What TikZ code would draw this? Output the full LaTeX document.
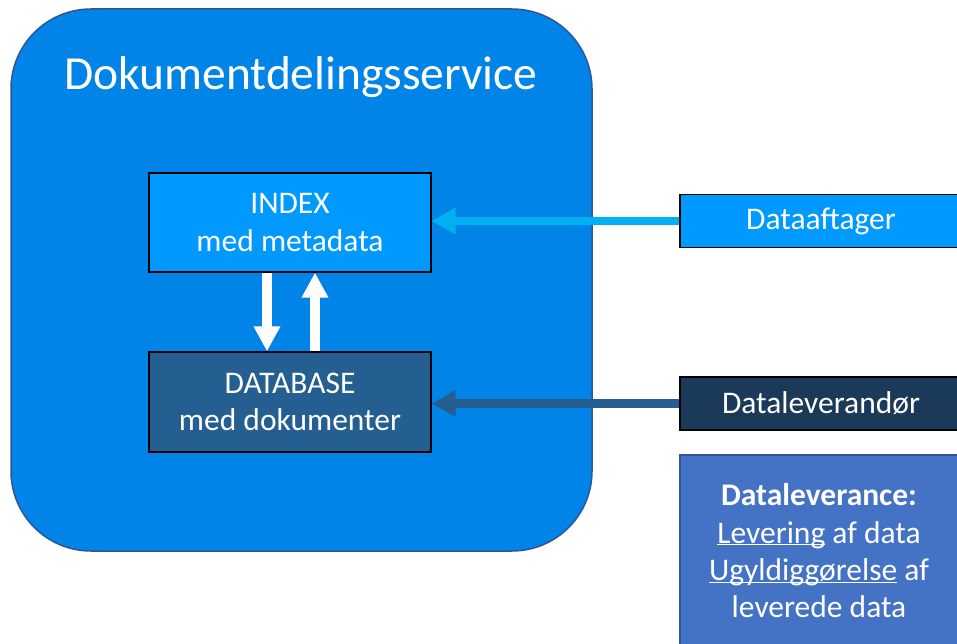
\documentclass[tikz,border=0pt]{standalone}
\usepackage{fontspec}
\setmainfont{Carlito}
\usetikzlibrary{arrows.meta}
\definecolor{outerfill}{HTML}{0084E8}
\definecolor{outerline}{HTML}{2F5597}
\definecolor{idxfill}{HTML}{0099FF}
\definecolor{dbfill}{HTML}{255E91}
\definecolor{dlfill}{HTML}{1B3A5A}
\definecolor{cyanarrow}{HTML}{00B0F0}
\definecolor{notefill}{HTML}{4472C4}
\newcommand\myul[1]{\underline{\smash{#1}}}
\tikzset{
  box/.style={draw=black, line width=1.2pt, minimum width=282pt, text=white, align=center,
    font=\fontsize{31.5}{37.5}\selectfont, inner sep=0pt},
  whitearrow/.style={draw=white, line width=10pt, -{Triangle[width=25pt,length=25pt]}},
  feedarrow/.style={line width=8.5pt, -{Triangle[width=25pt,length=24pt]}},
}
\begin{document}
\begin{tikzpicture}[x=1pt,y=-1pt]
\useasboundingbox (0,0) rectangle (957,644);
\fill[white] (0,0) rectangle (957,644);
% outer service
\draw[fill=outerfill, draw=outerline, line width=1.5pt, rounded corners=80pt] (11,9) rectangle (592,551);
\node[text=white, font=\fontsize{47.5}{56}\selectfont] (title) at (301,77) {Dokumentdelingsservice};
% inner boxes
\node[box, fill=idxfill, minimum height=99pt] (idx) at (290,222.5) {INDEX\\med metadata};
\node[box, fill=dbfill, minimum height=100pt] (db) at (290,402) {DATABASE\\med dokumenter};
% white arrows
\draw[whitearrow] ([xshift=-23pt]idx.south) -- ([xshift=-23pt]db.north);
\draw[whitearrow] ([xshift=25pt]db.north) -- ([xshift=25pt]idx.south);
% external boxes
\node[box, fill=idxfill, minimum height=53pt] (da) at (821,221) {Dataaftager};
\node[box, fill=dlfill, minimum height=53pt] (dl) at (821,403.5) {Dataleverandør};
\node[box, draw=outerline, line width=1.5pt, fill=notefill, minimum height=210pt] (note) at (821,560) {};
\node[text=white, align=center, font=\fontsize{31.5}{37.3}\selectfont, inner sep=0pt] (notetext) at (819,551)
  {\textbf{Dataleverance:}\\\myul{Levering} af data\\\myul{Ugyldiggørelse} af\\leverede data};
% feed arrows
\draw[feedarrow, cyanarrow] (da.west) -- (da.west -| idx.east);
\draw[feedarrow, dbfill] (dl.west) -- (dl.west -| db.east);
\end{tikzpicture}
\end{document}
